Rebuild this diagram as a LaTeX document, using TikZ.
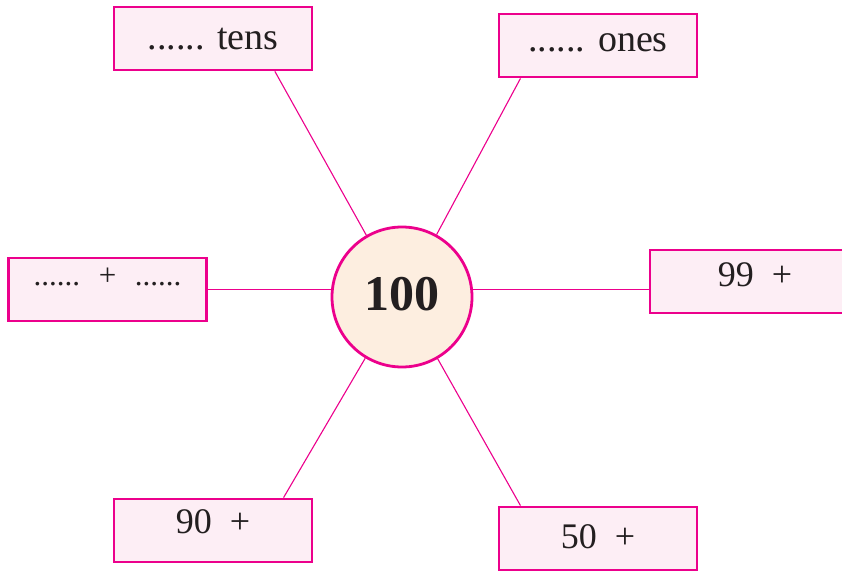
\documentclass[tikz,border=0pt]{standalone}
\usepackage{fontspec}
\setmainfont{Liberation Serif}
\usetikzlibrary{positioning}
\definecolor{Rim_Magenta}{HTML}{EC008C}
\definecolor{Box_Pink}{HTML}{FDEEF5}
\definecolor{Hub_Peach}{HTML}{FDEEE0}
\definecolor{Ink_Black}{HTML}{231F20}

\begin{document}
\begin{tikzpicture}[x=1pt, y=-1pt,
    box/.style={draw=Rim_Magenta, line width=2.8pt, fill=Box_Pink, minimum width=198pt,
        minimum height=63pt, inner sep=0pt, text=Ink_Black, font=\fontsize{36}{38}\selectfont},
    hub/.style={circle, draw=Rim_Magenta, line width=2.8pt, fill=Hub_Peach, minimum size=140pt,
        inner sep=0pt, text=Ink_Black, font=\fontsize{50}{52}\selectfont\bfseries},
    spoke/.style={draw=Rim_Magenta, line width=1.1pt}]
    \useasboundingbox (0,0) rectangle (842,572);

    % ===== Centre =====
    \node[hub, text height=34pt, text depth=8pt] (hub) at (402,297) {100};

    % ===== Boxes round the centre =====
    \node[box, font=\fontsize{38}{40}\selectfont, text height=26pt, text depth=4pt] (tens) at (213,38.5) {...... tens};
    \node[box, font=\fontsize{38}{40}\selectfont, text height=26pt, text depth=14pt] (ones) at (598,45.5) {...... ones};
    \node[box, font=\fontsize{31}{33}\selectfont, text height=18pt, text depth=27pt] (split) at (107.5,289.5) {......\hspace{0.6em}+\hspace{0.6em}......};
    \node[box, text height=26pt, text depth=16pt] (ninetynine) at (749,281.5) {\hspace*{12pt}99\ \ +};
    \node[box, text height=26pt, text depth=20pt] (ninety) at (213,530.5) {90\ \ +};
    \node[box, text height=26pt, text depth=7pt] (fifty) at (598,538.5) {50\ \ +};

    % ===== Spokes =====
    \draw[spoke] (hub.120) -- (tens.-28);
    \draw[spoke] (hub.61) -- (ones.-157);
    \draw[spoke] (split.east) -- (split.east -| hub.west);
    \draw[spoke] (hub.east |- split.east) -- (split.east -| ninetynine.west);
    \draw[spoke] (hub.239) -- (ninety.25);
    \draw[spoke] (hub.300) -- (fifty.157);
\end{tikzpicture}
\end{document}
